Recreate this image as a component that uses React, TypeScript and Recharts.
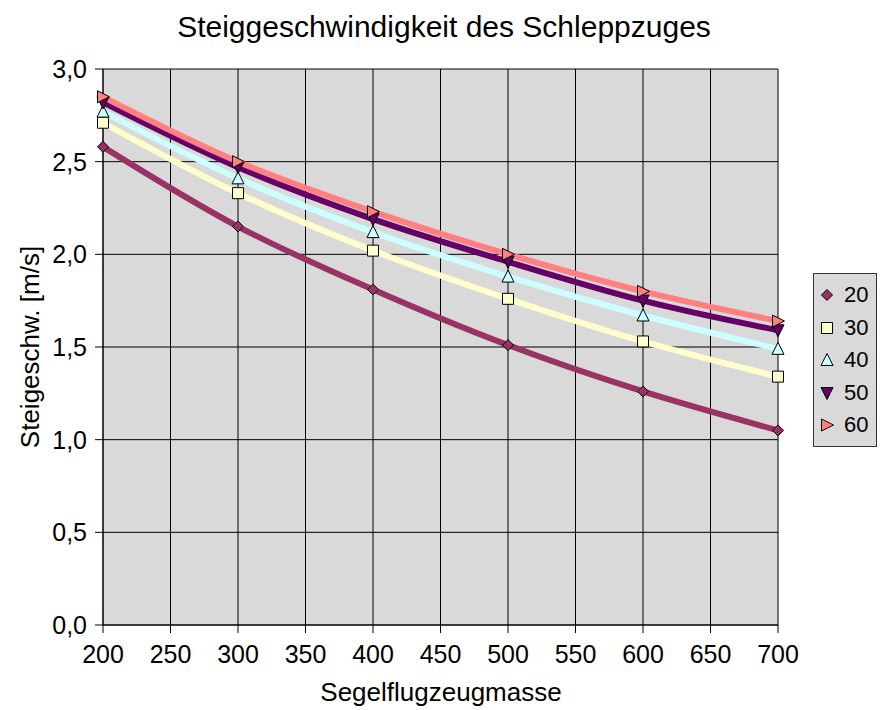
import React from "react";
import { LineChart, Line, XAxis, YAxis, CartesianGrid } from "recharts";

const masses = [200, 300, 400, 500, 600, 700];
const s20 = [2.58, 2.15, 1.81, 1.51, 1.26, 1.05];
const s30 = [2.71, 2.33, 2.02, 1.76, 1.53, 1.34];
const s40 = [2.77, 2.41, 2.12, 1.88, 1.67, 1.49];
const s50 = [2.82, 2.47, 2.19, 1.96, 1.75, 1.59];
const s60 = [2.85, 2.5, 2.23, 2.0, 1.8, 1.64];
const xTicks = [200, 250, 300, 350, 400, 450, 500, 550, 600, 650, 700];
const yTicks = [0, 0.5, 1, 1.5, 2, 2.5, 3];

const series = [
  { key: "s20", name: "20", values: s20, color: "#993366", shape: "diamond" },
  { key: "s30", name: "30", values: s30, color: "#FFFFCC", shape: "square" },
  { key: "s40", name: "40", values: s40, color: "#CCFFFF", shape: "up" },
  { key: "s50", name: "50", values: s50, color: "#660066", shape: "down" },
  { key: "s60", name: "60", values: s60, color: "#FF8080", shape: "right" },
];

const data = masses.map((m, i) => {
  const row: any = { m };
  series.forEach((s) => (row[s.key] = s.values[i]));
  return row;
});

const FONT = "'Liberation Sans', Arial, sans-serif";

function markerPath(shape: string, cx: number, cy: number): string {
  switch (shape) {
    case "diamond":
      return `M${cx},${cy - 5.5} L${cx + 5.5},${cy} L${cx},${cy + 5.5} L${cx - 5.5},${cy} Z`;
    case "square":
      return `M${cx - 5.5},${cy - 5.5} L${cx + 5.5},${cy - 5.5} L${cx + 5.5},${cy + 5.5} L${cx - 5.5},${cy + 5.5} Z`;
    case "up":
      return `M${cx},${cy - 6.5} L${cx + 6},${cy + 5.5} L${cx - 6},${cy + 5.5} Z`;
    case "down":
      return `M${cx - 6},${cy - 5.5} L${cx + 6},${cy - 5.5} L${cx},${cy + 6.5} Z`;
    default:
      return `M${cx - 5.5},${cy - 6} L${cx + 6.5},${cy} L${cx - 5.5},${cy + 6} Z`;
  }
}

const makeDot = (shape: string, color: string) => (props: any) => {
  const { cx, cy, index } = props;
  if (cx == null || cy == null) return <g key={index} />;
  return (
    <path key={index} d={markerPath(shape, cx, cy)} fill={color} stroke="#000" strokeWidth={1} />
  );
};

const fmt = (v: number) => v.toFixed(1).replace(".", ",");

export default function App() {
  return (
    <div style={{ position: "absolute", left: 0, top: 0, width: 880, height: 710, background: "#fff", fontFamily: FONT }}>
      <LineChart width={880} height={710} data={data} margin={{ top: 69, right: 102, bottom: 0, left: 0 }}>
        <CartesianGrid stroke="#000" strokeWidth={1} fill="#D9D9D9" horizontalValues={yTicks} verticalValues={xTicks} />
        <XAxis
          dataKey="m"
          type="number"
          domain={[200, 700]}
          ticks={xTicks}
          height={85}
          tickSize={8}
          tickMargin={12}
          stroke="#000"
          tick={{ fill: "#000", fontSize: 25, fontFamily: FONT }}
          interval={0}
        />
        <YAxis
          type="number"
          domain={[0, 3]}
          ticks={yTicks}
          width={103}
          tickSize={8}
          tickMargin={8}
          stroke="#000"
          tickFormatter={fmt}
          tick={{ fill: "#000", fontSize: 25, fontFamily: FONT }}
          interval={0}
        />
        {series.map((s) => (
          <Line
            key={s.key + "-line"}
            dataKey={s.key}
            type="monotone"
            stroke={s.color}
            strokeWidth={6}
            dot={false}
            activeDot={false}
            isAnimationActive={false}
          />
        ))}
        {series.map((s) => (
          <Line
            key={s.key + "-dots"}
            dataKey={s.key}
            stroke="none"
            dot={makeDot(s.shape, s.color)}
            activeDot={false}
            isAnimationActive={false}
            legendType="none"
          />
        ))}
      </LineChart>
      <div style={{ position: "absolute", left: 144, width: 600, top: 9, textAlign: "center", fontSize: 30, lineHeight: "36px", color: "#000", whiteSpace: "nowrap" }}>
        Steiggeschwindigkeit des Schleppzuges
      </div>
      <div style={{ position: "absolute", left: 241, width: 400, top: 676, textAlign: "center", fontSize: 26, lineHeight: "32px", color: "#000", whiteSpace: "nowrap" }}>
        Segelflugzeugmasse
      </div>
      <div
        style={{
          position: "absolute",
          left: 30,
          top: 347,
          transform: "translate(-50%, -50%) rotate(-90deg)",
          whiteSpace: "nowrap",
          fontSize: 26,
          lineHeight: "32px",
          color: "#000",
        }}
      >
        Steigeschw. [m/s]
      </div>
      <div
        style={{
          position: "absolute",
          left: 813,
          top: 273,
          width: 64,
          height: 174,
          background: "#D9D9D9",
          border: "1px solid #333",
          boxSizing: "border-box",
        }}
      >
        {series.map((s, i) => (
          <div key={s.key} style={{ position: "absolute", left: 0, top: 7 + i * 32.6, height: 28, display: "flex", alignItems: "center" }}>
            <svg width={22} height={20} style={{ display: "block" }}>
              <path d={markerPath(s.shape, 13, 10)} fill={s.color} stroke="#000" strokeWidth={1} />
            </svg>
            <span style={{ fontSize: 22, marginLeft: 8, color: "#000", lineHeight: "28px" }}>{s.name}</span>
          </div>
        ))}
      </div>
    </div>
  );
}
